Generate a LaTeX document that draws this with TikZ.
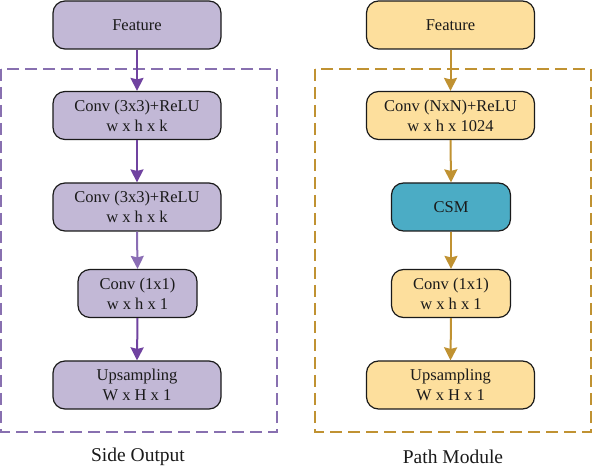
\documentclass[tikz,border=0pt]{standalone}
\usepackage{fontspec}
\setmainfont{Liberation Serif}
\usetikzlibrary{arrows.meta}
\definecolor{pfill}{HTML}{C2B8D6}
\definecolor{parrow}{HTML}{7043A0}
\definecolor{parrowl}{HTML}{8A6DB4}
\definecolor{pdash}{HTML}{8870B0}
\definecolor{ofill}{HTML}{FDDF9D}
\definecolor{oarrow}{HTML}{C09232}
\definecolor{cfill}{HTML}{4BACC5}
\definecolor{txt}{HTML}{1A1A1A}
\tikzset{
  blk/.style={draw=txt, line width=1.2pt, rounded corners=12pt, align=center,
    font=\fontsize{16.5}{20}\selectfont, text=txt, inner sep=0pt, minimum height=48pt},
  wide/.style={blk, minimum width=168pt},
  narrow/.style={blk, minimum width=119pt},
  purp/.style={fill=pfill},
  oran/.style={fill=ofill},
  flowarrow/.style={line width=2pt, -{Stealth[length=13pt,width=13pt,inset=1.5pt]}},
  grp/.style={line width=1.6pt, dash pattern=on 12pt off 6pt},
  grouplabel/.style={font=\fontsize{19.5}{22}\selectfont, text=txt}
}
\begin{document}
\begin{tikzpicture}[x=1pt,y=-1pt]
\useasboundingbox (0,0) rectangle (592,470);
% groups
\draw[grp, draw=pdash] (1,69) rectangle (277,432);
\draw[grp, draw=oarrow] (315,69) rectangle (591,432);
% left column
\node[wide,purp] (featL) at (137,25) {Feature};
\node[wide,purp] (c1L) at (137,115.5) {Conv (3x3)+ReLU\\w x h x k};
\node[wide,purp] (c2L) at (137,207) {Conv (3x3)+ReLU\\w x h x k};
\node[narrow,purp] (c3L) at (137.5,293.5) {Conv (1x1)\\w x h x 1};
\node[wide,purp] (upL) at (137,385) {Upsampling\\W x H x 1};
\node[grouplabel] (capL) at (138,457) {Side Output};
\draw[flowarrow, draw=parrow, fill=parrow] (featL.south) -- (c1L.north);
\draw[flowarrow, draw=parrow, fill=parrow] (c1L.south) -- (c2L.north);
\draw[flowarrow, draw=parrowl, fill=parrowl] (c2L.south) -- (c3L.north);
\draw[flowarrow, draw=parrow, fill=parrow] (c3L.south) -- (upL.north);
% right column
\node[wide,oran] (featR) at (450.5,25) {Feature};
\node[wide,oran] (c1R) at (450.5,115.5) {Conv (NxN)+ReLU\\w x h x 1024};
\node[narrow,fill=cfill] (csm) at (451,207) {CSM};
\node[narrow,oran] (c3R) at (451,293.5) {Conv (1x1)\\w x h x 1};
\node[wide,oran] (upR) at (450.5,385) {Upsampling\\W x H x 1};
\node[grouplabel] (capR) at (453,457) {Path Module};
\draw[flowarrow, draw=oarrow, fill=oarrow] (featR.south) -- (c1R.north);
\draw[flowarrow, draw=oarrow, fill=oarrow] (c1R.south) -- (csm.north);
\draw[flowarrow, draw=oarrow, fill=oarrow] (csm.south) -- (c3R.north);
\draw[flowarrow, draw=oarrow, fill=oarrow] (c3R.south) -- (upR.north);
\end{tikzpicture}
\end{document}
